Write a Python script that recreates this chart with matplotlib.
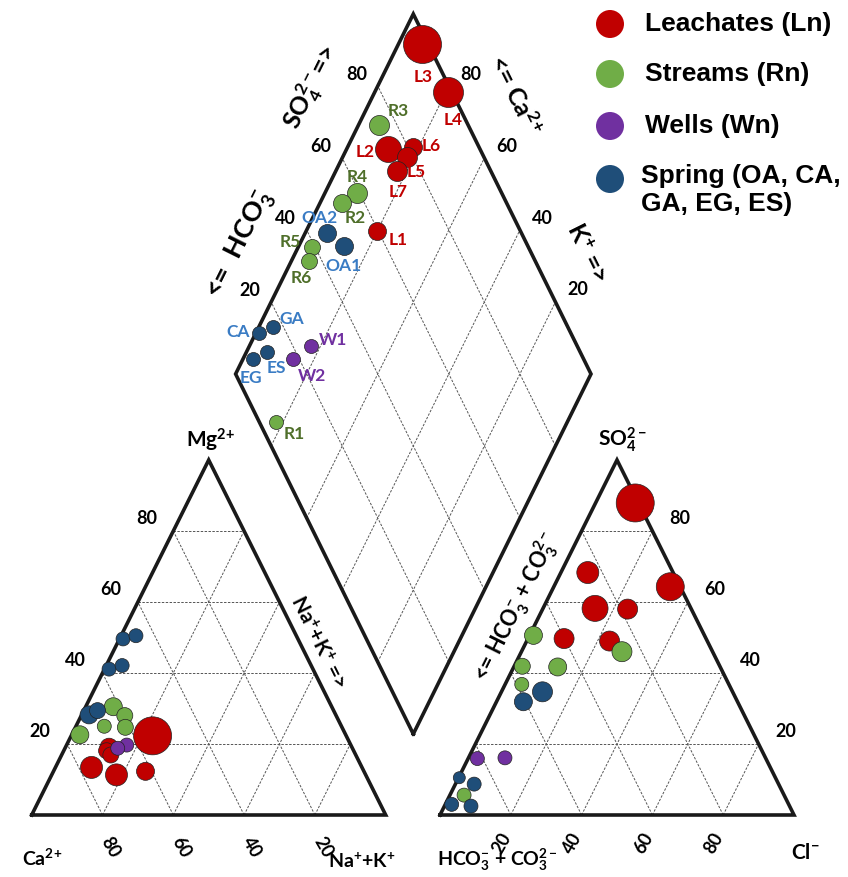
import numpy as np
import matplotlib.pyplot as plt

plt.rcParams['font.family'] = ['Lato', 'DejaVu Sans']
plt.rcParams['font.weight'] = 'bold'
plt.rcParams['mathtext.fontset'] = 'custom'
plt.rcParams['mathtext.rm'] = 'Lato:bold'
plt.rcParams['mathtext.it'] = 'Lato:bold:italic'
plt.rcParams['mathtext.bf'] = 'Lato:bold'

# ---------------- data (% of meq/l) ----------------
groups = ['Leachates (Ln)', 'Streams (Rn)', 'Wells (Wn)', 'Spring (OA, CA,\nGA, EG, ES)']
colors = ['#c00000', '#70ad47', '#7030a0', '#1f4e79']
label_colors = ['#c00000', '#4f6f2a', '#7030a0', '#3a7cc4']

# cation triangle: Mg2+ and Na+ + K+ (Ca2+ is the rest)
cat_mg_L = [22.3, 19.1, 18.1, 16.9, 13.4, 11.3, 12.3]
cat_nak_L = [23.0, 12.3, 12.1, 13.9, 10.2, 18.3, 26.0]
cat_mg_R = [30.5, 28.0, 25.0, 24.7, 22.6]
cat_nak_R = [7.8, 12.3, 8.0, 14.1, 2.3]
cat_mg_W = [19.7, 18.8]
cat_nak_W = [17.0, 14.9]
cat_mg_S = [49.6, 50.5, 41.1, 42.1, 28.2, 29.4]
cat_nak_S = [1.0, 4.2, 1.3, 4.5, 2.1, 3.9]

# anion triangle: SO4 2- and Cl- (HCO3- + CO3 2- is the rest)
an_so4_L = [87.9, 68.3, 64.3, 58.2, 58.0, 49.7, 49.0]
an_cl_L = [11.2, 7.6, 32.9, 14.7, 24.0, 10.2, 23.4]
an_so4_R = [50.6, 41.9, 41.7, 36.8, 46.0, 5.6]
an_cl_R = [1.1, 2.3, 12.4, 4.7, 28.4, 4.0]
an_so4_W = [15.9, 16.1]
an_cl_W = [2.6, 10.3]
an_so4_S = [34.7, 31.9, 10.5, 8.7, 3.0, 2.5]
an_cl_S = [11.6, 7.6, 0.2, 5.3, 1.8, 7.5]

# diamond: value on the upper-left scale (SO4) and on the upper-right scale (Ca)
dia_names = ['L3', 'L4', 'R3', 'L2', 'L6', 'L5', 'L7', 'R4', 'R2', 'L1', 'OA2',
             'OA1', 'R5', 'R6', 'GA', 'CA', 'W1', 'ES', 'EG', 'W2', 'R1']
dia_so4 = [98.4, 98.9, 75.0, 74.0, 81.3, 78.2, 73.7, 59.4, 53.7, 59.7, 45.4,
           48.2, 39.2, 36.5, 17.1, 12.4, 25.1, 11.9, 6.9, 18.2, 4.7]
dia_ca = [93.3, 79.5, 94.2, 88.4, 81.7, 82.0, 82.7, 90.9, 93.7, 80.0, 93.8,
          87.4, 96.2, 95.0, 95.9, 99.0, 82.7, 94.1, 97.3, 86.0, 82.1]

# marker radii (px)
r_cat = [[19, 9, 8, 8, 11, 11, 9], [9, 8, 7, 8, 9], [7, 7], [7, 7, 7, 7, 9, 8]]
r_an = [[19, 11, 14, 13, 10, 10, 10], [9, 8, 9, 7, 10, 7], [7, 7], [10, 9, 6, 7, 7, 7]]
r_dia = [19, 15, 10, 13, 9, 10, 10, 10, 9, 9, 9, 9, 8, 8, 7, 7, 7, 7, 7, 7, 7]
# label offsets (px) for the diamond points
lab_off = [(1, 32), (5, 27), (19, -15), (-23, 2), (19, -2), (10, 14), (1, 20),
           (0, -17), (13, 14), (21, 8), (-8, -16), (0, 19), (-22, -6), (-8, 16),
           (18, -9), (-21, -2), (22, -7), (9, 15), (-2, 18), (19, 16), (18, 11)]

# ---------------- geometry (pixels) ----------------
LX0, RX0, SIDE, BASE, TH = 31.7, 440.0, 354.0, 816.0, 355.0
DBX, DBY, DDX, DDY = 413.3, 735.0, 177.7, 360.0


def cat_xy(mg, nak):
    mg, nak = np.asarray(mg, float), np.asarray(nak, float)
    return LX0 + (nak + mg / 2) / 100 * SIDE, BASE - mg / 100 * TH


def an_xy(so4, cl):
    so4, cl = np.asarray(so4, float), np.asarray(cl, float)
    return RX0 + (cl + so4 / 2) / 100 * SIDE, BASE - so4 / 100 * TH


def dia_xy(f, g):
    f, g = np.asarray(f, float), np.asarray(g, float)
    return DBX + (f - g) / 100 * DDX, DBY - (f + g) / 100 * DDY


def msize(r):
    return (1.44 * np.asarray(r, float)) ** 2


fig = plt.figure(figsize=(8.48, 8.78), dpi=100)
ax = fig.add_axes([0, 0, 1, 1])
ax.set_xlim(0, 848)
ax.set_ylim(878, 0)
ax.axis('off')

grid_kw = dict(color='#555555', lw=0.7, ls=(0, (2.5, 1.5)), zorder=1)
edge_kw = dict(color='#1a1a1a', lw=2.6, solid_joinstyle='miter', zorder=2)
levels = [20, 40, 60, 80]


def draw_tri(xy):
    for k in levels:
        for a, b in [((k, 0), (k, 100 - k)), ((0, k), (100 - k, k)),
                     ((0, 100 - k), (100 - k, 0))]:
            p, q = xy(*a), xy(*b)
            ax.plot([p[0], q[0]], [p[1], q[1]], **grid_kw)
    pts = [xy(0, 0), xy(0, 100), xy(100, 0), xy(0, 0)]
    ax.plot([p[0] for p in pts], [p[1] for p in pts], **edge_kw)


draw_tri(cat_xy)
draw_tri(an_xy)

for k in levels:
    for a, b in [((k, 0), (k, 100)), ((0, k), (100, k))]:
        p, q = dia_xy(*a), dia_xy(*b)
        ax.plot([p[0], q[0]], [p[1], q[1]], **grid_kw)
dpts = [dia_xy(0, 0), dia_xy(100, 0), dia_xy(100, 100), dia_xy(0, 100), dia_xy(0, 0)]
ax.plot([p[0] for p in dpts], [p[1] for p in dpts], **edge_kw)

# ---------------- points ----------------
# (values, group index) in drawing order
cat_data = [((cat_mg_R, cat_nak_R), 1), ((cat_mg_S, cat_nak_S), 3),
            ((cat_mg_L, cat_nak_L), 0), ((cat_mg_W, cat_nak_W), 2)]
an_data = [((an_so4_L, an_cl_L), 0), ((an_so4_R, an_cl_R), 1),
           ((an_so4_S, an_cl_S), 3), ((an_so4_W, an_cl_W), 2)]
for (a, b), gi in cat_data:
    x, y = cat_xy(a, b)
    ax.scatter(x, y, s=msize(r_cat[gi]), c=colors[gi], edgecolors='#222222', linewidths=0.5, zorder=3)
for (a, b), gi in an_data:
    x, y = an_xy(a, b)
    ax.scatter(x, y, s=msize(r_an[gi]), c=colors[gi], edgecolors='#222222', linewidths=0.5, zorder=3)


def group_of(name):
    return {'L': 0, 'R': 1, 'W': 2}.get(name[0], 3)


dx, dy = dia_xy(dia_so4, dia_ca)
for i, name in enumerate(dia_names):
    gi = group_of(name)
    ax.scatter(dx[i], dy[i], s=msize(r_dia[i]), c=colors[gi], edgecolors='#222222',
               linewidths=0.5, zorder=3)
    ax.text(dx[i] + lab_off[i][0], dy[i] + lab_off[i][1], name, color=label_colors[gi],
            fontsize=12.5, fontweight='bold', ha='center', va='center', zorder=4)

# ---------------- tick labels ----------------
tick_kw = dict(fontsize=13, fontweight='bold', ha='center', va='center')
for k in levels:
    x, y = cat_xy(k, 0)
    ax.text(x - 27, y - 13, str(k), **tick_kw)
    x, y = cat_xy(0, 100 - k)
    ax.text(x + 8, y + 31, str(k), rotation=-60, **tick_kw)
    x, y = an_xy(k, 100 - k)
    ax.text(x + 27, y - 13, str(k), **tick_kw)
    x, y = an_xy(0, k)
    ax.text(x - 9, y + 27, str(k), rotation=60, **tick_kw)
    x, y = dia_xy(k, 100)
    ax.text(x - 21, y - 12, str(k), **tick_kw)
    x, y = dia_xy(100, k)
    ax.text(x + 22, y - 13, str(k), **tick_kw)

# ---------------- axis titles ----------------
t_kw = dict(fontweight='bold', ha='center', va='center')
ax.text(211, 440, r'Mg$^{2\!+}$', fontsize=15, **t_kw)
ax.text(42, 858, r'Ca$^{2\!+}$', fontsize=14, **t_kw)
ax.text(362, 861, r'Na$^{+}$+K$^{+}$', fontsize=14, **t_kw)
ax.text(318, 643, r'Na$^{+}$+K$^{+}$ =>', fontsize=15, rotation=-63.5, **t_kw)
ax.text(622, 440, r'SO$_4^{2-}$', fontsize=15, **t_kw)
ax.text(517, 607, r'<= HCO$_3^{-}$ + CO$_3^{2-}$', fontsize=15.5, rotation=63.5, **t_kw)
ax.text(497, 860, r'HCO$_3^{-}$ + CO$_3^{2-}$', fontsize=14, **t_kw)
ax.text(805, 853, r'Cl$^{-}$', fontsize=15, **t_kw)
ax.text(312, 88, r'SO$_4^{2-}$=>', fontsize=18, rotation=63.5, **t_kw)
ax.text(240, 245, r'<=  HCO$_3^{-}$', fontsize=19.5, rotation=63.5, **t_kw)
ax.text(515, 95, r'<= Ca$^{2\!+}$', fontsize=18, rotation=-63.5, **t_kw)
ax.text(587, 253, r'K$^{+}$ =>', fontsize=18, rotation=-63.5, **t_kw)

# ---------------- legend ----------------
leg_y = [25, 75, 127, 180]
leg_font = ['Liberation Sans', 'DejaVu Sans']
for gi, yy in enumerate(leg_y):
    ax.scatter(610, yy, s=msize(14), c=colors[gi], edgecolors='none', zorder=3)
    if gi < 3:
        ax.text(645, yy - 1, groups[gi], fontsize=19, fontweight='bold', ha='left',
                va='center', family=leg_font)
    else:
        ax.text(641, yy - 16, groups[gi], fontsize=19, fontweight='bold', ha='left',
                va='top', family=leg_font, linespacing=1.2)

fig.savefig('out.png', dpi=100)
